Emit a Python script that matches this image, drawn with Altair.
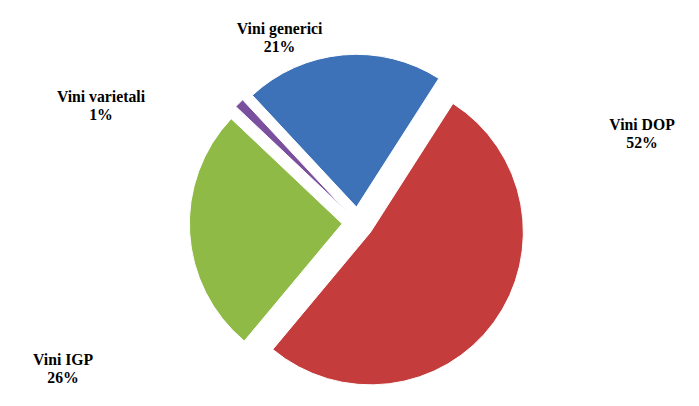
import math
import altair as alt
import pandas as pd

categories = ["Vini generici", "Vini DOP", "Vini IGP", "Vini varietali"]
shares = [21, 52, 26, 1]
colors = ["#3d72b8", "#c43c3c", "#8fba45", "#7a4f9e"]
label_angle = [-22, 71, 245, -64]  # degrees clockwise from top, where each label sits
label_dist = [212, 305, 330, 290]

start_rad = -0.75
cx, cy, r, explode = 350, 210, 155, 16

df = pd.DataFrame({"cat": categories, "val": shares, "color": colors,
                   "lang": label_angle, "ldist": label_dist})
df["end"] = df["val"].cumsum()
df["start"] = df["end"] - df["val"]
df["label"] = df["cat"] + "\n" + df["val"].astype(str) + "%"
# label angle expressed in the same percent units as the slices
df["lpos"] = (df["lang"] * math.pi / 180 - start_rad) / (2 * math.pi) * 100

theta_scale = alt.Scale(domain=[0, 100], range=[start_rad, start_rad + 2 * math.pi])

layers = []
for _, row in df.iterrows():
    mid = start_rad + (row["start"] + row["end"]) / 200 * 2 * math.pi
    ox = cx + explode * math.sin(mid)
    oy = cy - explode * math.cos(mid)
    sub = df[df["cat"] == row["cat"]]
    arc = alt.Chart(sub).mark_arc(radius=r, stroke="#ffffff", strokeWidth=1).encode(
        theta=alt.Theta("start:Q", scale=theta_scale),
        theta2="end:Q",
        x=alt.value(ox),
        y=alt.value(oy),
        color=alt.Color("color:N", scale=None),
    )
    txt = alt.Chart(sub).mark_text(
        radius=float(row["ldist"]), font="Liberation Serif", fontSize=16, fontWeight="bold",
        lineBreak="\n", color="#000000",
    ).encode(
        theta=alt.Theta("lpos:Q", scale=theta_scale),
        x=alt.value(cx),
        y=alt.value(cy),
        text="label:N",
    )
    layers += [arc, txt]

chart = alt.layer(*layers).properties(width=683, height=390).configure_view(stroke=None)
chart.save("out.html", embed_options={"renderer": "svg", "actions": False})
